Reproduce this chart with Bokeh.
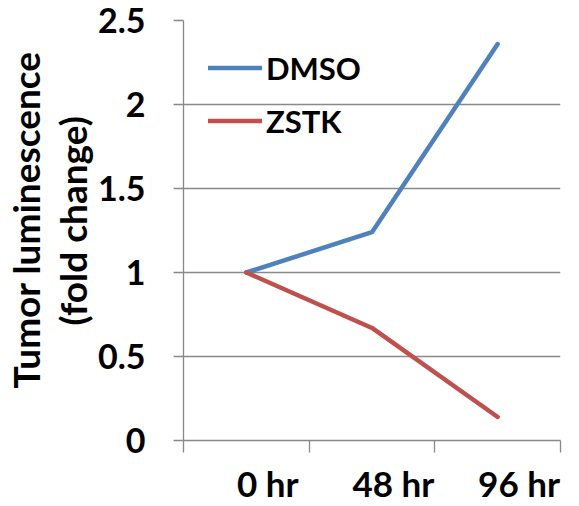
from bokeh.plotting import figure
from bokeh.models import Range1d, FixedTicker, Title
from bokeh.embed import file_html
from bokeh.resources import INLINE

# ---- data ----
categories = ["0 hr", "48 hr", "96 hr"]
dmso = [1.0, 1.24, 2.36]
zstk = [1.0, 0.67, 0.14]
y_ticks = [0, 0.5, 1, 1.5, 2, 2.5]
y_tick_labels = ["0", "0.5", "1", "1.5", "2", "2.5"]
y_title = ["Tumor luminescence", "(fold change)"]

BLUE = "#4F81BD"
RED = "#C0504D"
GREY = "#898989"
FONT = "Lato"

n = len(categories)
x_pos = [i + 0.5 for i in range(n)]
label_pos = [i + 0.5 + 0.17 for i in range(n)]

p = figure(width=579, height=506, x_range=Range1d(0, n), y_range=Range1d(y_ticks[0], y_ticks[-1]),
           output_backend="svg", toolbar_location=None,
           min_border_left=183, min_border_right=19, min_border_top=20, min_border_bottom=66)
p.outline_line_color = None
p.background_fill_color = "white"
p.border_fill_color = "white"

p.line(x_pos, dmso, line_width=4.5, color=BLUE, legend_label="DMSO", line_join="round", line_cap="round")
p.line(x_pos, zstk, line_width=4.5, color=RED, legend_label="ZSTK", line_join="round", line_cap="round")

# grid
p.xgrid.visible = False
p.ygrid.grid_line_color = GREY
p.ygrid.grid_line_width = 1.3
p.ygrid.ticker = FixedTicker(ticks=y_ticks)

# y axis
ya = p.yaxis[0]
ya.ticker = FixedTicker(ticks=y_ticks)
ya.major_label_overrides = {float(t): s for t, s in zip(y_ticks, y_tick_labels)}
ya.minor_tick_line_color = None
ya.major_tick_in = 0
ya.major_tick_out = 10
ya.major_tick_line_color = GREY
ya.major_tick_line_width = 1.3
ya.axis_line_color = GREY
ya.axis_line_width = 1.3
ya.major_label_standoff = 28
ya.major_label_text_font = FONT
ya.major_label_text_font_style = "bold"
ya.major_label_text_font_size = "34px"
ya.major_label_text_color = "black"

# y title: two lines, outer line added last
for txt, off in zip(reversed(y_title), [115, 52]):
    p.add_layout(Title(text=txt, align="left", offset=off, standoff=0,
                       text_font=FONT, text_font_style="bold", text_font_size="37px",
                       text_color="black"), "left")

# x axis: ticks at category boundaries, labels offset to the right
xa = p.xaxis[0]
xa.ticker = FixedTicker(ticks=label_pos, minor_ticks=list(range(n + 1)))
xa.major_label_overrides = {float(t): c for t, c in zip(label_pos, categories)}
xa.major_tick_line_color = None
xa.major_tick_in = 0
xa.major_tick_out = 0
xa.minor_tick_line_color = GREY
xa.minor_tick_line_width = 1.3
xa.minor_tick_in = 0
xa.minor_tick_out = 12
xa.axis_line_color = GREY
xa.axis_line_width = 1.3
xa.major_label_standoff = 9
xa.major_label_text_font = FONT
xa.major_label_text_font_style = "bold"
xa.major_label_text_font_size = "35px"
xa.major_label_text_color = "black"

# legend
lg = p.legend[0]
lg.location = "top_left"
lg.border_line_color = None
lg.background_fill_alpha = 0
lg.margin = 25
lg.padding = 0
lg.glyph_width = 54
lg.glyph_height = 45
lg.label_height = 45
lg.spacing = 8
lg.label_standoff = 4
lg.label_text_font = FONT
lg.label_text_font_style = "bold"
lg.label_text_font_size = "31px"
lg.label_text_color = "black"

open("out.html", "w").write(file_html(p, INLINE))
